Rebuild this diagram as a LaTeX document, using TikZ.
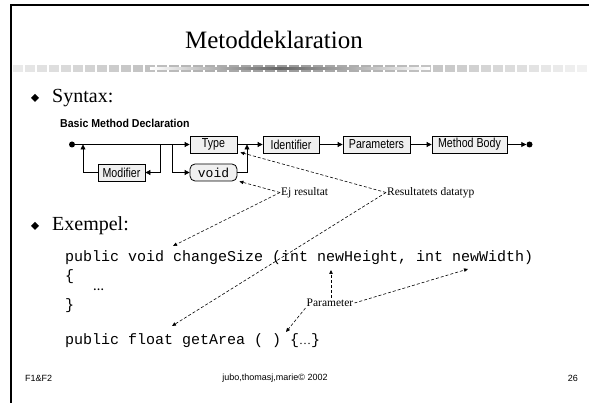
\documentclass[tikz,border=0pt]{standalone}
\usepackage{fontspec}
\setmainfont{Liberation Serif}
\setsansfont{Liberation Sans}
\setmonofont{Liberation Mono}
\usetikzlibrary{arrows.meta}
\newcommand\narrowtext[1]{\scalebox{0.82}[1]{#1}}

\begin{document}
\begin{tikzpicture}[x=1pt, y=-1pt, >={Triangle[length=5pt,width=5pt]}]
      \tikzset{
	  syntaxbox/.style={rectangle, draw=black, fill=black!6, line width=0.8pt, minimum height=17pt, inner sep=0pt, font=\sffamily\fontsize{13}{13}\selectfont},
	  keywordbox/.style={syntaxbox, rounded corners=5pt, font=\ttfamily\fontsize{13}{13}\selectfont},
	  railway/.style={line width=0.8pt},
	  dot/.style={circle, fill=black, inner sep=0pt, minimum size=6pt},
	  note/.style={inner sep=1pt, font=\fontsize{11.5}{11.5}\selectfont},
	  notearrow/.style={densely dashed, line width=0.6pt, -{Triangle[length=4pt,width=3.5pt]}},
	  bullettext/.style={anchor=west, inner sep=0pt, font=\fontsize{20}{20}\selectfont},
	  code/.style={anchor=west, inner sep=0pt, font=\ttfamily\fontsize{15}{15}\selectfont},
	  footer/.style={inner sep=0pt, font=\sffamily\fontsize{9}{9}\selectfont}
      }

      \def\bulletmark{-- +(4,-4) -- +(8,0) -- +(4,4) -- cycle}

      \useasboundingbox (0,0) rectangle (589,403);
      \fill[white] (0,0) rectangle (589,403);
      \draw[line width=2.5pt] (11,403) -- (11,5) -- (589,5);

      % title with its band
      \node (title) at (274,40) {\fontsize{25}{25}\selectfont Metoddeklaration};
      \foreach \x in {13,25,...,585} {
	  \pgfmathsetmacro\shade{5+35*(1-abs(\x-280)/300)}
	  \fill[black!\shade] (\x,65) rectangle +(10,7);
      }
      \fill[left color=white, right color=black!60] (150,68) rectangle (280,69.5);
      \fill[left color=black!60, right color=white] (280,68) rectangle (430,69.5);

      \fill (31,98) \bulletmark;
      \node[bullettext] (syntax) at (52,98) {Syntax:};
      \node[anchor=west, inner sep=0pt, font=\sffamily\bfseries\fontsize{11.5}{11.5}\selectfont] (decl) at (60,123) {\scalebox{0.92}[1]{Basic Method Declaration}};

      % syntax diagram
      \node[dot] (start) at (72,144.5) {};
      \node[syntaxbox, minimum width=47pt] (modifier) at (121.5,172.5) {\narrowtext{Modifier}};
      \node[syntaxbox, minimum width=47pt] (type) at (213.5,144.5) {\narrowtext{Type}};
      \node[keywordbox, minimum width=47pt] (void) at (213.5,172.5) {void};
      \node[syntaxbox, minimum width=56pt] (identifier) at (291,144.5) {\narrowtext{Identifier}};
      \node[syntaxbox, minimum width=67pt] (parameters) at (376.5,144.5) {\narrowtext{Parameters}};
      \node[syntaxbox, minimum width=75pt] (body) at (469.5,144.5) {\narrowtext{Method Body}};
      \node[dot] (end) at (529.5,144.5) {};

      \coordinate (loopback) at (83,172.5);
      \coordinate (modin) at (160,144.5);
      \coordinate (voidfork) at (172,144.5);
      \coordinate (voidjoin) at (247,144.5);

      \draw[railway, ->] (start) -- (type);
      \draw[railway, ->] (modifier.west) -- (loopback) -- (loopback |- start);
      \draw[railway, ->] (modin) |- (modifier.east);
      \draw[railway, ->] (voidfork) |- (void.west);
      \draw[railway, ->] (void.east) -| (voidjoin);
      \draw[railway, ->] (type) -- (identifier);
      \draw[railway, ->] (identifier) -- (parameters);
      \draw[railway, ->] (parameters) -- (body);
      \draw[railway, ->] (body) -- (end);

      % examples
      \fill (31,226) \bulletmark;
      \node[bullettext] (exempel) at (52,226) {Exempel:};
      \node[code] (sig1) at (65,258) {public void changeSize (int newHeight, int newWidth)};
      \node[code] (open) at (65,277) {\{};
      \node[code] (dots) at (93,290) {\rmfamily\bfseries\fontsize{11}{11}\selectfont …};
      \node[code] (close) at (65,306) {\}};
      \node[code] (sig2) at (65,341) {public float getArea ( ) \{{\rmfamily\fontsize{12}{12}\selectfont …}\}};

      % notes
      \node[note, anchor=west] (ejres) at (280,192.5) {Ej resultat};
      \node[note, anchor=west] (restype) at (386,192.5) {Resultatets datatyp};
      \node[note] (param) at (330,303) {Parameter};

      \coordinate (voidword) at (173,246);
      \coordinate (floatword) at (172,326);
      \coordinate (heightword) at (331,270);
      \coordinate (widthword) at (468,269);
      \coordinate (emptyparens) at (286,332);

      \draw[notearrow] (ejres.west) -- ([xshift=2pt]void.south east);
      \draw[notearrow] (ejres.west) -- (voidword);
      \draw[notearrow] (restype.west) -- ([xshift=3pt,yshift=1pt]type.south east);
      \draw[notearrow] (restype.west) -- (floatword);
      \draw[notearrow] (param.north -| heightword) -- (heightword);
      \draw[notearrow] (param.east) -- (widthword);
      \draw[notearrow] (param.south west) -- (emptyparens);

      % footer
      \node[footer, anchor=west] (course) at (25,378) {F1\&F2};
      \node[footer] (authors) at (275,378) {jubo,thomasj,marie© 2002};
      \node[footer, anchor=east] (page) at (578,378) {26};
\end{tikzpicture}
\end{document}
